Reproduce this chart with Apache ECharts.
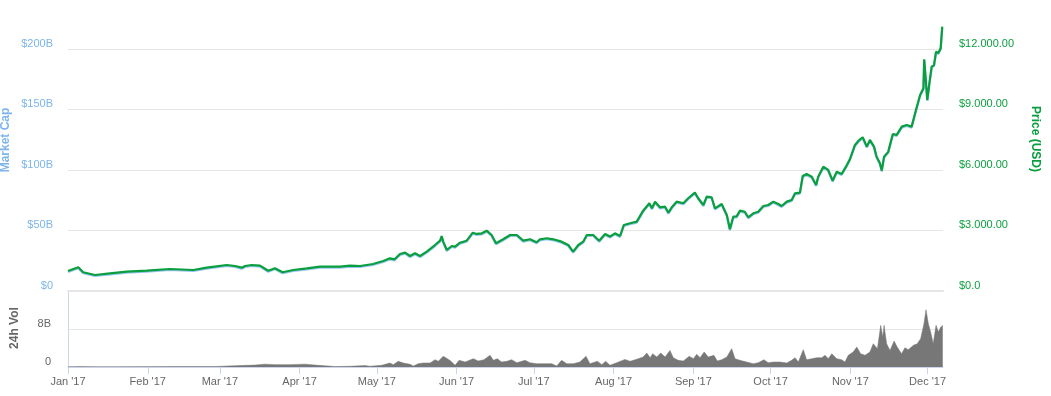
<!DOCTYPE html>
<html><head><meta charset="utf-8">
<script src="https://cdn.jsdelivr.net/npm/echarts@6/dist/echarts.min.js"></script>
<style>html,body{margin:0;padding:0;background:#fff}#c{width:1051px;height:396px}</style>
</head><body><div id="c"></div>
<script>
// x values = day of 2017 (0 = Jan 1)
const monthDays = [0,31,59,90,120,151,181,212,243,273,304,334];
const monthLabels = ["Jan '17","Feb '17","Mar '17","Apr '17","May '17","Jun '17","Jul '17","Aug '17","Sep '17","Oct '17","Nov '17","Dec '17"];
const capTickValues = [0,50,100,150,200];
const capTickLabels = ['$0','$50B','$100B','$150B','$200B'];
const priceTickValues = [0,3000,6000,9000,12000];
const priceTickLabels = ['$0.0','$3.000.00','$6.000.00','$9.000.00','$12.000.00'];
const volTickValues = [0,8];
const volTickLabels = ['0','8B'];

// [day, price USD]
const price = [
[0,992],[4.0,1175],[5.9,928],[10.5,794],[16.3,877],[22.8,957],[30.6,1007],[39.6,1091],[40.3,1000],
[48.7,1042],[53.9,1157],[61.7,1290],[64.9,1240],[67.5,1157],[68.8,1240],[71.4,1290],[74.6,1257],
[77.8,1007],[80.4,1124],[83.4,928],[87.5,1042],[92.8,1124],[97.9,1207],[105.7,1210],[109.6,1257],
[113.5,1240],[118.5,1340],[122.5,1488],[125.1,1620],[126.9,1570],[129.0,1835],[131.0,1900],[132.9,1736],
[134.8,1868],[136.8,1736],[139.4,1950],[142.6,2280],[144.6,2495],[145.2,2728],[145.8,2450],[147.2,2034],
[149.1,2232],[150.4,2200],[152.3,2396],[154.9,2495],[157.3,2892],[158.8,2830],[160.8,2860],[162.7,2991],
[164.6,2778],[166.3,2364],[169.1,2564],[171.8,2778],[174.4,2778],[176.9,2495],[179.5,2564],[182.1,2415],
[183.4,2564],[186.0,2614],[188.6,2564],[191.8,2446],[194.4,2282],[196.3,1950],[198.3,2282],[200.2,2446],
[201.6,2778],[204.1,2778],[206.4,2495],[208.7,2827],[210.6,2700],[212.5,2860],[214.5,2727],[216.0,3274],
[218.4,3357],[221.0,3440],[223.5,3983],[225.9,4350],[226.9,4100],[228.1,4430],[230.0,4150],[232.0,4180],
[233.3,3884],[234.6,4150],[236.5,4430],[239.1,4350],[241.0,4600],[243.6,4876],[244.9,4600],[246.9,4266],
[248.2,4680],[250.1,4650],[251.4,4100],[254.0,4315],[256.0,3770],[257.2,3060],[258.5,3686],[259.8,3700],
[261.1,3983],[263.0,3930],[264.3,3655],[266.3,3853],[268.2,3930],[270.2,4216],[272.1,4265],[274.1,4430],
[276.0,4316],[277.3,4216],[279.3,4430],[281.2,4514],[282.5,4845],[284.4,4876],[285.5,5704],[287.0,5803],
[289.0,5670],[290.7,5258],[291.5,5670],[293.5,6165],[295.4,6002],[297.1,5470],[298.7,5917],[300.6,5803],
[302.3,6165],[303.8,6532],[305.8,7242],[307.1,7441],[308.8,7623],[310.4,7160],[311.6,7490],[313.2,7160],
[314.2,6661],[315.5,6334],[316.2,5970],[317.1,6661],[318.7,6900],[320.5,7787],[322.0,7740],[324.0,8150],
[325.9,8234],[327.8,8150],[329.5,8978],[331.1,9722],[332.4,10054],[332.7,11492],[333.4,10300],[333.9,9474],
[334.7,10300],[335.6,11125],[336.5,11200],[337.3,11870],[338.2,11800],[339.1,12040],[339.7,13110]
];

// [day, 24h volume in billions USD]
const volume = [
[0,0.05],[4.7,0.1],[12.4,0.05],[41.6,0.1],[57.1,0.1],[66.8,0.3],[72.7,0.4],[76.5,0.6],[80.4,0.5],
[86.3,0.5],[92.1,0.6],[96.0,0.4],[103.7,0.1],[109.6,0.15],[115.4,0.3],[117.3,0.15],[121.9,0.35],
[125.1,0.84],[126.4,0.5],[128.3,1.2],[130.3,0.84],[132.9,0.56],[134.2,0.2],[136.1,0.7],[138.1,0.84],
[140.7,0.84],[142.6,1.54],[143.9,1.2],[145.8,2.25],[147.4,1.75],[148.7,1.26],[150.4,0.35],[152.0,1.4],
[154.3,1.05],[157.5,1.75],[159.4,1.26],[161.6,1.54],[164.0,2.46],[165.3,1.4],[166.8,1.75],[168.5,1.05],
[170.5,1.2],[172.4,1.54],[174.4,0.9],[177.6,1.4],[179.5,0.9],[182.1,0.7],[184.7,0.7],[188.0,0.7],
[189.9,0.2],[191.8,1.4],[193.8,0.7],[196.3,0.7],[198.9,1.05],[201.3,2.25],[202.8,0.7],[205.7,1.2],
[207.4,0.5],[208.9,1.2],[210.6,0.35],[213.2,0.9],[216.4,1.6],[218.4,1.2],[219.7,1.4],[221.6,1.75],
[223.5,2.1],[224.9,2.95],[226.2,1.96],[227.2,2.8],[228.8,2.1],[230.3,2.95],[232.0,2.1],[233.9,3.5],
[235.2,1.96],[237.1,1.4],[239.1,1.26],[241.4,2.25],[243.0,1.75],[244.3,2.67],[245.6,1.96],[247.2,3.16],
[248.8,2.1],[251.0,2.46],[252.3,1.26],[254.0,1.54],[256.0,2.1],[257.9,3.86],[259.2,1.75],[261.1,1.4],
[263.7,1.05],[266.3,0.7],[268.2,0.9],[270.4,1.54],[272.1,0.9],[274.1,1.05],[276.7,1.05],[279.3,0.84],
[281.2,1.4],[282.5,1.96],[283.8,1.05],[285.7,3.65],[287.0,1.54],[289.0,1.75],[290.9,1.96],[292.9,1.96],
[294.2,2.46],[295.4,1.75],[296.8,2.8],[298.7,1.75],[300.6,1.54],[301.9,1.05],[303.2,2.46],[305.1,3.16],
[306.5,4.2],[308.0,2.8],[309.7,2.46],[311.6,3.16],[312.9,4.9],[314.5,3.86],[315.8,8.77],[316.6,6.3],
[317.1,8.77],[318.1,4.9],[319.4,3.5],[321.0,5.47],[322.2,4.2],[323.9,2.8],[325.2,4.07],[326.5,3.65],
[328.5,4.56],[330.0,4.9],[331.3,5.96],[332.6,9.12],[333.4,12.07],[334.3,9.12],[335.2,7.37],[336.2,4.9],
[337.3,8.77],[338.2,7.37],[339.1,8.4],[339.9,8.77]
];

const FONT = "'Liberation Sans', Arial, sans-serif";
const GREEN = '#0a9f3e';
const BLUE = '#7cb5ec';
const X_MAX = 340;
const PRICE_MAX = 13339;
const CAP_MAX = 222.32;
const VOL_MAX = 15.8;

function lookup(vals, labels, v) {
  for (let i = 0; i < vals.length; i++) if (Math.abs(vals[i] - v) < 1e-6) return labels[i];
  return '';
}

const chart = echarts.init(document.getElementById('c'), null, {renderer: 'canvas'});
chart.setOption({
  animation: false,
  textStyle: {fontFamily: FONT},
  grid: [
    {left: 68, top: 22, width: 875, height: 269},
    {left: 68, top: 292, width: 875, height: 75}
  ],
  xAxis: [
    {type: 'value', gridIndex: 0, min: 0, max: X_MAX,
     axisLine: {show: true, lineStyle: {color: '#e6e6e6', width: 2}},
     axisTick: {show: false}, axisLabel: {show: false}, splitLine: {show: false}},
    {type: 'value', gridIndex: 1, min: 0, max: X_MAX,
     axisLine: {show: true, lineStyle: {color: '#ccd6eb', width: 1}},
     axisTick: {show: true, length: 7, customValues: monthDays, lineStyle: {color: '#ccd6eb'}},
     axisLabel: {customValues: monthDays, color: '#666', fontSize: 11, fontFamily: FONT, margin: 9,
       formatter: v => lookup(monthDays, monthLabels, v)},
     splitLine: {show: false}}
  ],
  yAxis: [
    {type: 'value', gridIndex: 0, position: 'left', min: 0, max: CAP_MAX, interval: 50,
     axisLine: {show: false}, axisTick: {show: false},
     axisLabel: {color: BLUE, fontSize: 11, fontFamily: FONT, margin: 15, verticalAlign: 'bottom',
       showMaxLabel: false, formatter: v => lookup(capTickValues, capTickLabels, v)},
     splitLine: {show: true, showMaxLine: false, lineStyle: {color: '#e6e6e6', width: 1}}},
    {type: 'value', gridIndex: 0, position: 'right', min: 0, max: PRICE_MAX, interval: 3000,
     axisLine: {show: false}, axisTick: {show: false},
     axisLabel: {color: GREEN, fontSize: 11, fontFamily: FONT, margin: 16, verticalAlign: 'bottom',
       showMaxLabel: false, formatter: v => lookup(priceTickValues, priceTickLabels, v)},
     splitLine: {show: false}},
    {type: 'value', gridIndex: 1, position: 'left', min: 0, max: VOL_MAX, interval: 8, offset: 2,
     axisLine: {show: true, lineStyle: {color: '#ccd6eb', width: 1}}, axisTick: {show: false},
     axisLabel: {color: '#666', fontSize: 11, fontFamily: FONT, margin: 15, verticalAlign: 'bottom',
       showMaxLabel: false, formatter: v => lookup(volTickValues, volTickLabels, v)},
     splitLine: {show: true, showMaxLine: false, lineStyle: {color: '#e6e6e6', width: 1}}}
  ],
  series: [
    {type: 'line', name: '24h Vol', xAxisIndex: 1, yAxisIndex: 2, data: volume,
     showSymbol: false, silent: true,
     lineStyle: {color: '#777', width: 0.5},
     areaStyle: {color: '#777', opacity: 1}},
    {type: 'line', name: 'Price (USD)', xAxisIndex: 0, yAxisIndex: 1, data: price,
     showSymbol: false, silent: true, z: 5,
     lineStyle: {color: GREEN, width: 2.2, shadowColor: 'rgba(124,181,236,0.8)', shadowOffsetY: 1, shadowBlur: 0}}
  ],
  graphic: [
    {type: 'text', x: 12, y: 140, rotation: Math.PI / 2,
     style: {text: 'Market Cap', fill: BLUE, font: 'bold 12px ' + FONT, align: 'center', verticalAlign: 'bottom'}},
    {type: 'text', x: 1029, y: 139, rotation: -Math.PI / 2,
     style: {text: 'Price (USD)', fill: GREEN, font: 'bold 12px ' + FONT, align: 'center', verticalAlign: 'bottom'}},
    {type: 'text', x: 21, y: 328, rotation: Math.PI / 2,
     style: {text: '24h Vol', fill: '#666', font: 'bold 12px ' + FONT, align: 'center', verticalAlign: 'bottom'}}
  ]
});
</script>
</body></html>
